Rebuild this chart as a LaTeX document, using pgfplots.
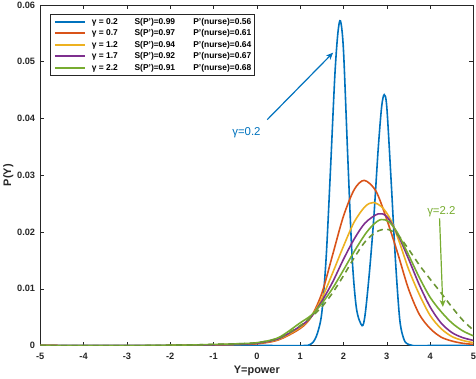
\documentclass[border=0pt]{standalone}
\usepackage{fontspec}
\setmainfont{Liberation Sans}
\usepackage{pgfplots}
\pgfplotsset{compat=1.18}
\usetikzlibrary{arrows.meta}
\definecolor{mblue}{RGB}{0,114,189}
\definecolor{morange}{RGB}{217,83,25}
\definecolor{myellow}{RGB}{237,177,32}
\definecolor{mpurple}{RGB}{126,47,142}
\definecolor{mgreen}{RGB}{119,172,48}
\definecolor{mdgreen}{RGB}{108,150,52}
\definecolor{axgray}{RGB}{38,38,38}
\begin{document}
\begin{tikzpicture}
\begin{axis}[
  scale only axis, width=435bp, height=342bp,
  xmin=-5, xmax=5, ymin=0, ymax=0.06,
  xtick={-5,-4,-3,-2,-1,0,1,2,3,4,5},
  ytick={0,0.01,0.02,0.03,0.04,0.05,0.06},
  yticklabels={0,0.01,0.02,0.03,0.04,0.05,0.06},
  scaled y ticks=false,
  /pgf/number format/assume math mode=true,
  tick pos=both, tick align=inside, major tick length=4bp,
  axis line style={axgray, line width=0.5bp},
  every tick/.style={axgray, line width=0.5bp},
  ticklabel style={font=\bfseries\fontsize{9.3}{10}\selectfont, text=axgray},
  xticklabel style={anchor=north, inner sep=0pt, yshift=-7bp},
  yticklabel style={anchor=east, inner sep=0pt, xshift=-5bp},
  every axis x label/.style={at={(axis description cs:0.5,0)}, anchor=center, yshift=-25bp},
  every axis y label/.style={at={(axis description cs:0,0.5)}, anchor=center, rotate=90, yshift=32bp},
  label style={font=\bfseries\fontsize{11}{12}\selectfont, text=axgray},
  xlabel={Y=power}, ylabel={P(Y)},
  legend cell align=left,
  legend image code/.code={\draw[#1, line width=2bp, solid] (0bp,0bp) -- (30bp,0bp);},
  legend style={at={(axis description cs:0.023,0.973)}, anchor=north west,
    draw=axgray, line width=0.5bp, inner xsep=3.5bp, inner ysep=1.5bp,
    font=\bfseries\fontsize{8.5}{9}\selectfont, text=black,
    nodes={inner xsep=0pt, inner ysep=1.85bp, text height=6.4bp, text depth=1.5bp},
    /tikz/every odd column/.append style={column sep=6bp}},
  every axis plot/.append style={line width=1.6bp, smooth},
  clip=true,
]
\addplot[mblue] coordinates {
(-5,0) (0,0) (1.1,0) (1.2,0.0001) (1.3,0.0006) (1.4,0.0022) (1.5,0.0058) (1.6,0.0155)
(1.7,0.0310) (1.8,0.0475) (1.87,0.0550) (1.93,0.0572) (2.0,0.0520) (2.1,0.0330)
(2.2,0.0155) (2.3,0.0065) (2.43,0.0035) (2.5,0.0055) (2.6,0.0130) (2.7,0.0225)
(2.8,0.0345) (2.88,0.0420) (2.94,0.0442) (3.0,0.0420) (3.1,0.0290) (3.2,0.0150)
(3.3,0.0045) (3.4,0.0010) (3.5,0.0002) (3.6,0) (4,0) (5,0)};
\addlegendentry{\makebox[43bp][l]{γ = 0.2}\makebox[59bp][l]{S(P')=0.99}P'(nurse)=0.56}
\addplot[morange] coordinates {
(-5,0) (-2,0) (-1.5,0.00005) (-1,0.0001) (-0.5,0.0002) (0,0.0003) (0.5,0.0010)
(1.0,0.0030) (1.25,0.0050) (1.5,0.0092) (1.75,0.0160) (2.0,0.0228) (2.25,0.0275)
(2.48,0.0291) (2.75,0.0272) (3.0,0.0222) (3.25,0.0163) (3.5,0.0100) (3.75,0.0055)
(4.0,0.0030) (4.25,0.0015) (4.5,0.0008) (4.75,0.0004) (5.0,0.0002)};
\addlegendentry{\makebox[43bp][l]{γ = 0.7}\makebox[59bp][l]{S(P')=0.97}P'(nurse)=0.61}
\addplot[myellow] coordinates {
(-5,0) (-2,0) (-1.5,0.00005) (-1,0.0001) (-0.5,0.0002) (0,0.0004) (0.5,0.0011)
(1.0,0.0032) (1.25,0.0050) (1.5,0.0083) (1.75,0.0128) (2.0,0.0175) (2.25,0.0218)
(2.5,0.0245) (2.69,0.0252) (2.9,0.0243) (3.1,0.0220) (3.3,0.0180) (3.5,0.0135)
(3.75,0.0090) (4.0,0.0053) (4.25,0.0030) (4.5,0.0016) (4.75,0.0009) (5.0,0.0005)};
\addlegendentry{\makebox[43bp][l]{γ = 1.2}\makebox[59bp][l]{S(P')=0.94}P'(nurse)=0.64}
\addplot[mpurple] coordinates {
(-5,0) (-2,0) (-1.5,0.00005) (-1,0.0001) (-0.5,0.0002) (0,0.0004) (0.5,0.0012)
(1.0,0.0034) (1.25,0.0050) (1.5,0.0078) (1.75,0.0112) (2.0,0.0152) (2.25,0.0188)
(2.5,0.0216) (2.8,0.0232) (3.0,0.0227) (3.25,0.0196) (3.5,0.0153) (3.75,0.0107)
(4.0,0.0068) (4.25,0.0040) (4.5,0.0023) (4.75,0.0014) (5.0,0.0009)};
\addlegendentry{\makebox[43bp][l]{γ = 1.7}\makebox[59bp][l]{S(P')=0.92}P'(nurse)=0.67}
\addplot[mgreen] coordinates {
(-5,0) (-2.5,0) (-2,0.00005) (-1.5,0.0001) (-1,0.0002) (-0.5,0.0003) (0,0.0005)
(0.5,0.0014) (1.0,0.0040) (1.25,0.0053) (1.5,0.0074) (1.75,0.0101) (2.0,0.0133)
(2.25,0.0166) (2.5,0.0196) (2.7,0.0214) (2.87,0.0222) (3.05,0.0218) (3.25,0.0198)
(3.5,0.0160) (3.75,0.0120) (4.0,0.0085) (4.25,0.0060) (4.5,0.0040) (4.75,0.0026) (5.0,0.0017)};
\addlegendentry{\makebox[43bp][l]{γ = 2.2}\makebox[59bp][l]{S(P')=0.91}P'(nurse)=0.68}
\addplot[mdgreen, dash pattern=on 6bp off 4.5bp, forget plot] coordinates {
(-5,0) (-2.5,0) (-2,0.0001) (-1.5,0.0001) (-1,0.0002) (-0.5,0.0003) (0,0.0005)
(0.5,0.0013) (1.0,0.0035) (1.25,0.0050) (1.5,0.0068) (1.75,0.0093) (2.0,0.0123)
(2.25,0.0155) (2.5,0.0183) (2.75,0.0200) (3.0,0.0205) (3.25,0.0195) (3.5,0.0170)
(3.75,0.0142) (4.0,0.0117) (4.25,0.0093) (4.5,0.0068) (4.75,0.0045) (5.0,0.0027)};
\draw[mblue, line width=1.2bp, -{Stealth[length=7bp, width=6bp, inset=2bp]}]
  (axis cs:0.24,0.0398) -- (axis cs:1.76,0.0516);
\node[text=mblue, font=\fontsize{11.5}{12}\selectfont] at (axis cs:-0.24,0.0375) {γ=0.2};
\draw[mgreen, line width=1.2bp, -{Stealth[length=7bp, width=6bp, inset=2bp]}]
  (axis cs:4.218,0.0224) -- (axis cs:4.294,0.0068);
\node[text=mgreen, font=\fontsize{11.5}{12}\selectfont] at (axis cs:4.26,0.0236) {γ=2.2};
\end{axis}
\path ([shift={(-39bp,-33bp)}]current axis.south west) rectangle ([shift={(2bp,5bp)}]current axis.north east);
\end{tikzpicture}
\end{document}
